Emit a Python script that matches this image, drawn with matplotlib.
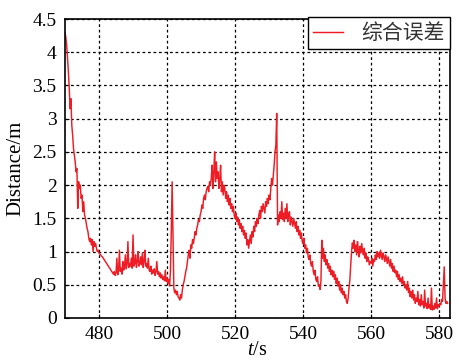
import numpy as np
import matplotlib
matplotlib.use("Agg")
import matplotlib.pyplot as plt
from matplotlib.ticker import FuncFormatter

t_start = 470.0
t_step = 0.25
distance = [
    4.30, 4.22, 4.10, 3.90, 3.70, 3.45, 3.15, 3.30, 2.90, 2.75, 2.55, 2.45, 2.35, 2.20, 2.25, 1.65, 2.05, 1.95, 2.00, 1.80,
    1.85, 1.60, 1.75, 1.55, 1.50, 1.42, 1.35, 1.30, 1.20, 1.15, 1.20, 1.10, 1.18, 1.00, 1.15, 1.08, 1.12, 1.05, 1.00, 1.02,
    0.98, 0.96, 0.95, 0.93, 0.92, 0.90, 0.88, 0.86, 0.84, 0.82, 0.80, 0.78, 0.76, 0.74, 0.72, 0.70, 0.68, 0.66, 0.70, 0.64,
    0.68, 0.90, 0.65, 0.72, 1.02, 0.70, 0.75, 0.66, 0.85, 0.72, 0.78, 0.95, 0.74, 0.80, 1.15, 0.76, 0.82, 0.78, 0.90, 0.75,
    1.25, 0.78, 0.82, 0.95, 0.76, 0.85, 1.00, 0.78, 0.82, 0.92, 0.80, 0.98, 0.76, 0.85, 1.02, 0.78, 0.82, 0.75, 0.90, 0.72,
    0.70, 0.78, 0.66, 0.72, 0.68, 0.74, 0.64, 0.70, 0.85, 0.66, 0.70, 0.62, 0.68, 0.60, 0.65, 0.58, 0.62, 0.56, 0.72, 0.55,
    0.60, 0.52, 0.58, 0.48, 0.70, 1.30, 2.05, 1.20, 0.45, 0.38, 0.42, 0.35, 0.40, 0.32, 0.30, 0.27, 0.35, 0.30, 0.42, 0.50,
    0.55, 0.62, 0.70, 0.75, 0.85, 0.95, 1.02, 0.90, 1.10, 1.05, 1.18, 1.12, 1.20, 1.30, 1.25, 1.35, 1.40, 1.48, 1.45, 1.55,
    1.60, 1.70, 1.65, 1.80, 1.85, 1.78, 1.90, 1.95, 1.98, 1.90, 2.05, 2.00, 2.10, 2.30, 1.95, 2.20, 2.50, 2.05, 2.35, 2.10,
    2.20, 1.95, 2.10, 2.30, 1.90, 2.05, 1.85, 2.00, 1.95, 1.80, 1.90, 1.75, 1.85, 1.70, 1.80, 1.65, 1.72, 1.60, 1.68, 1.55,
    1.50, 1.58, 1.45, 1.52, 1.40, 1.48, 1.35, 1.42, 1.30, 1.38, 1.25, 1.32, 1.20, 1.28, 1.10, 1.18, 1.05, 1.15, 1.25, 1.12,
    1.30, 1.22, 1.38, 1.30, 1.45, 1.38, 1.50, 1.42, 1.55, 1.62, 1.50, 1.68, 1.60, 1.72, 1.65, 1.58, 1.75, 1.68, 1.80, 1.72,
    1.85, 1.78, 1.95, 2.10, 2.00, 2.15, 2.30, 2.50, 2.60, 3.08, 1.40, 1.55, 1.45, 1.60, 1.50, 1.75, 1.48, 1.58, 1.45, 1.65,
    1.50, 1.72, 1.45, 1.55, 1.60, 1.40, 1.52, 1.45, 1.38, 1.50, 1.42, 1.35, 1.45, 1.30, 1.38, 1.25, 1.32, 1.20, 1.28, 1.15,
    1.12, 1.20, 1.05, 1.10, 0.98, 1.05, 0.92, 0.88, 0.95, 0.82, 0.78, 0.85, 0.70, 0.65, 0.72, 0.58, 0.55, 0.62, 0.48, 0.50,
    0.43, 0.55, 1.17, 0.90, 1.05, 0.85, 0.95, 0.80, 0.88, 0.75, 0.82, 0.70, 0.78, 0.65, 0.72, 0.62, 0.70, 0.58, 0.65, 0.52,
    0.60, 0.48, 0.55, 0.42, 0.50, 0.38, 0.45, 0.35, 0.40, 0.30, 0.35, 0.25, 0.22, 0.30, 0.45, 0.57, 0.80, 1.00, 1.13, 1.05,
    1.17, 1.00, 1.10, 0.95, 1.15, 1.02, 0.92, 1.08, 0.98, 1.12, 1.00, 0.95, 1.05, 0.90, 0.98, 0.85, 0.92, 0.88, 0.80, 0.85,
    0.83, 0.90, 0.78, 0.88, 0.85, 0.95, 0.88, 1.00, 0.92, 0.98, 0.90, 1.02, 0.95, 0.88, 0.98, 0.92, 0.85, 0.95, 0.90, 0.82,
    0.92, 0.85, 0.78, 0.88, 0.75, 0.82, 0.70, 0.78, 0.68, 0.72, 0.62, 0.70, 0.58, 0.65, 0.55, 0.60, 0.52, 0.62, 0.50, 0.55,
    0.45, 0.50, 0.42, 0.55, 0.38, 0.45, 0.32, 0.40, 0.30, 0.42, 0.27, 0.35, 0.22, 0.30, 0.25, 0.40, 0.20, 0.28, 0.18, 0.35,
    0.20, 0.25, 0.15, 0.42, 0.18, 0.22, 0.14, 0.30, 0.15, 0.20, 0.13, 0.45, 0.12, 0.18, 0.13, 0.22, 0.15, 0.30, 0.14, 0.20,
    0.18, 0.22, 0.20, 0.28, 0.25, 0.50, 0.77, 0.30, 0.22, 0.25, 0.22,
]
t = t_start + t_step * np.arange(len(distance))

x_ticks = [480, 500, 520, 540, 560, 580]
y_ticks = [0, 0.5, 1, 1.5, 2, 2.5, 3, 3.5, 4, 4.5]
legend_label = "综合误差"

plt.rcParams['font.family'] = ['Liberation Serif', 'DejaVu Serif']
plt.rcParams['mathtext.fontset'] = 'custom'
plt.rcParams['mathtext.it'] = 'Liberation Serif:italic'
plt.rcParams['mathtext.rm'] = 'Liberation Serif'

fig = plt.figure(figsize=(4.59, 3.6), dpi=100)
ax = fig.add_axes([65/459, 1-318/360, (450-65)/459, (318-19)/360])

ax.plot(t, distance, color='#EE1C25', lw=1.05, label=legend_label)

ax.set_xlim(470, 583.2)
ax.set_ylim(0, 4.5)
ax.set_xticks(x_ticks)
ax.set_yticks(y_ticks)
ax.yaxis.set_major_formatter(FuncFormatter(lambda v, p: f"{v:g}"))
ax.tick_params(direction='in', length=3, width=0.8, labelsize=14, pad=6, colors='black')
ax.grid(True, color='black', linestyle=(0, (2.2, 2.2)), lw=0.9)
for s in ax.spines.values():
    s.set_linewidth(1.2)
    s.set_color('black')

ax.set_ylabel("Distance/m", fontsize=15, labelpad=5)
ax.set_xlabel("$t$/s", fontsize=14.5, labelpad=-2)

leg = ax.legend(loc='upper right', bbox_to_anchor=(450/459, 1-17/360), bbox_transform=fig.transFigure,
                borderaxespad=0, fancybox=False, framealpha=1, edgecolor='black',
                prop={'family': ['Noto Sans CJK SC'], 'size': 15}, handlelength=1.4, handletextpad=0.9,
                borderpad=0.25)
leg.get_frame().set_linewidth(1.0)
for txt in leg.get_texts():
    txt.set_color('#333333')

fig.savefig("out.png", dpi=100)
